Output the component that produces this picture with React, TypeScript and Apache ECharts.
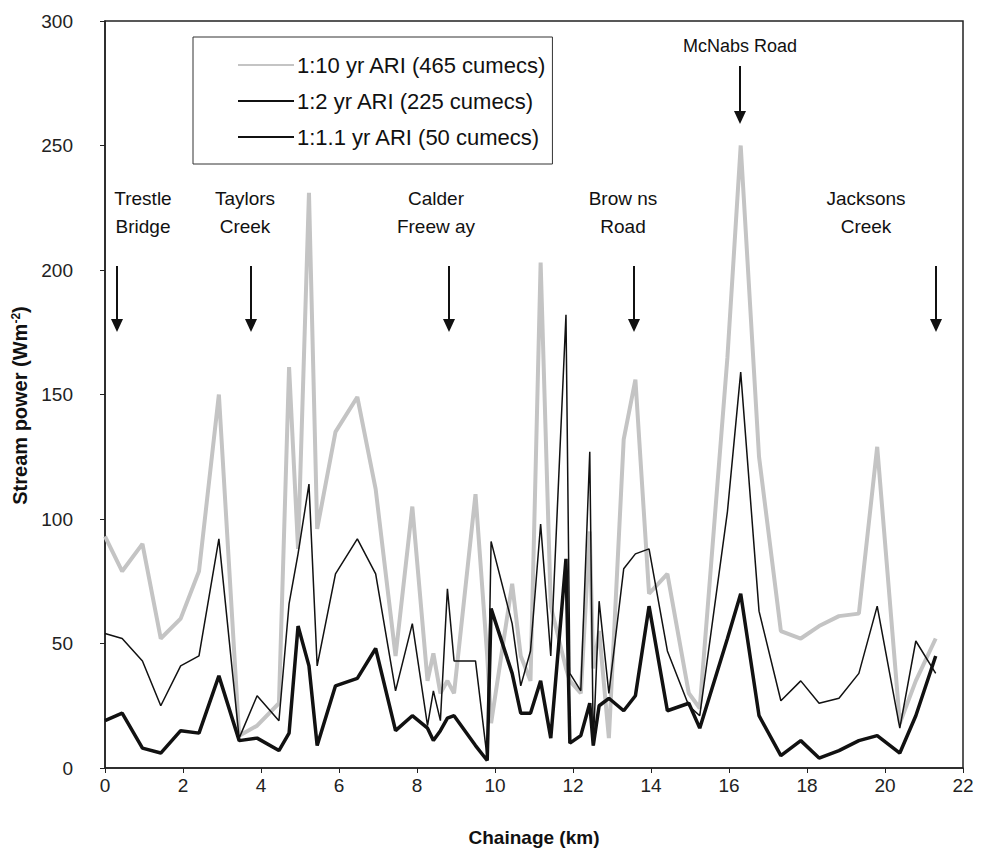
import React, { useEffect, useRef } from "react";
import * as echarts from "echarts";

const chainage = [
  0, 0.44, 0.96, 1.43, 1.94, 2.41, 2.92, 3.44, 3.9, 4.46, 4.72, 4.95, 5.23, 5.44, 5.91, 6.47, 6.94, 7.45, 7.88,
  8.27, 8.42, 8.6, 8.78, 8.95, 9.5, 9.8, 9.9, 10.44, 10.66, 10.91, 11.17, 11.43, 11.82, 11.92, 12.2, 12.43,
  12.52, 12.67, 12.92, 13.3, 13.6, 13.95, 14.42, 14.97, 15.25, 15.96, 16.3, 16.77, 17.33, 17.84, 18.31, 18.82,
  19.33, 19.8, 20.38, 20.79, 21.3,
];

const ari10 = [
  93, 79, 90, 52, 60, 79, 150, 13, 17, 26, 161, 88, 231, 96, 135, 149, 112, 45, 105,
  35, 46, 30, 35, 30, 110, 45, 18, 74, 45, 35, 203, 65, 40, 35, 30, 95,
  40, 55, 12, 132, 156, 70, 78, 30, 24, 165, 250, 125, 55, 52, 57, 61,
  62, 129, 18, 35, 52,
];

const ari2 = [
  54, 52, 43, 25, 41, 45, 92, 12, 29, 19, 66, 86, 114, 41, 78, 92, 78, 31, 58,
  17, 31, 19, 72, 43, 43, 4, 91, 58, 33, 47, 98, 45, 182, 38, 31, 127,
  9, 67, 30, 80, 86, 88, 47, 25, 21, 103, 159, 63, 27, 35, 26, 28,
  38, 65, 16, 51, 38,
];

const ari11 = [
  19, 22, 8, 6, 15, 14, 37, 11, 12, 7, 14, 57, 41, 9, 33, 36, 48, 15, 21,
  16, 11, 15, 20, 21, 9, 3, 64, 38, 22, 22, 35, 12, 84, 10, 13, 26,
  9, 25, 28, 23, 29, 65, 23, 26, 16, 52, 70, 21, 5, 11, 4, 7,
  11, 13, 6, 21, 45,
];

const seriesNames = ["1:10 yr ARI (465 cumecs)", "1:2 yr ARI (225 cumecs)", "1:1.1 yr ARI (50 cumecs)"];

const sites = [
  { label: "Trestle\nBridge", tx: 143, ax: 117, low: true },
  { label: "Taylors\nCreek", tx: 245, ax: 251, low: true },
  { label: "Calder\nFreew ay", tx: 436, ax: 449, low: true },
  { label: "Brow ns\nRoad", tx: 623, ax: 634, low: true },
  { label: "McNabs Road", tx: 740, ax: 740, low: false },
  { label: "Jacksons\nCreek", tx: 866, ax: 936, low: true },
];

const FONT = "'Liberation Sans', Arial, sans-serif";

function pairs(vals: number[]) {
  return chainage.map((x, i) => [x, vals[i]]);
}

export default function App() {
  const ref = useRef<HTMLDivElement>(null);
  useEffect(() => {
    if (!ref.current) return;
    const chart = echarts.init(ref.current, undefined, { renderer: "svg" });

    const graphics: any[] = [];
    sites.forEach((s) => {
      if (s.low) {
        graphics.push({
          type: "text",
          x: s.tx,
          y: 212,
          style: {
            text: s.label,
            font: `19px ${FONT}`,
            fill: "#111",
            align: "center",
            verticalAlign: "middle",
            lineHeight: 28,
          },
        });
        graphics.push({ type: "line", shape: { x1: s.ax, y1: 266, x2: s.ax, y2: 322 }, style: { stroke: "#111", lineWidth: 2 } });
        graphics.push({
          type: "polygon",
          shape: { points: [[s.ax - 6, 319], [s.ax + 6, 319], [s.ax, 332]] },
          style: { fill: "#111" },
        });
      } else {
        graphics.push({
          type: "text",
          x: s.tx,
          y: 46,
          style: { text: s.label, font: `18px ${FONT}`, fill: "#111", align: "center", verticalAlign: "middle" },
        });
        graphics.push({ type: "line", shape: { x1: s.ax, y1: 66, x2: s.ax, y2: 114 }, style: { stroke: "#111", lineWidth: 2 } });
        graphics.push({
          type: "polygon",
          shape: { points: [[s.ax - 6, 111], [s.ax + 6, 111], [s.ax, 124]] },
          style: { fill: "#111" },
        });
      }
    });

    chart.setOption({
      animation: false,
      backgroundColor: "#fff",
      grid: {
        left: 105,
        right: 20,
        top: 21,
        bottom: 92,
        show: true,
        borderColor: "#222",
        borderWidth: 1.5,
        containLabel: false,
      },
      legend: {
        orient: "vertical",
        left: 193,
        top: 37,
        padding: [17, 6, 16, 44],
        itemGap: 14,
        itemWidth: 56,
        itemHeight: 8,
        borderColor: "#333",
        borderWidth: 1,
        backgroundColor: "#fff",
        itemStyle: { opacity: 0 },
        textStyle: { fontFamily: FONT, fontSize: 22, color: "#111", padding: [0, 0, 0, -2] },
        data: seriesNames,
      },
      xAxis: {
        type: "value",
        min: 0,
        max: 22,
        interval: 2,
        name: "Chainage (km)",
        nameLocation: "middle",
        nameGap: 60,
        nameTextStyle: { fontFamily: FONT, fontSize: 19, fontWeight: "bold", color: "#111" },
        axisLine: { show: true, lineStyle: { color: "#222", width: 1.5 } },
        axisTick: { show: true, inside: false, length: 5, lineStyle: { color: "#222" } },
        axisLabel: { fontFamily: FONT, fontSize: 19, color: "#222", margin: 8 },
        splitLine: { show: false },
      },
      yAxis: {
        type: "value",
        min: 0,
        max: 300,
        interval: 50,
        name: "{a|Stream power (Wm}{s|-2}{a|)}",
        nameLocation: "middle",
        nameGap: 69,
        nameRotate: 90,
        nameTextStyle: {
          padding: [0, 22, 0, 0],
          rich: {
            a: { fontFamily: FONT, fontSize: 20, fontWeight: "bold", color: "#111" },
            s: { fontFamily: FONT, fontSize: 12, fontWeight: "bold", color: "#111", verticalAlign: "top", padding: [0, 0, 8, 0] },
          },
        },
        axisLine: { show: true, lineStyle: { color: "#222", width: 1.5 } },
        axisTick: { show: true, inside: false, length: 5, lineStyle: { color: "#222" } },
        axisLabel: { fontFamily: FONT, fontSize: 19, color: "#222", margin: 32 },
        splitLine: { show: false },
      },
      series: [
        {
          name: seriesNames[0],
          type: "line",
          data: pairs(ari10),
          symbol: "none",
          lineStyle: { color: "#c4c4c4", width: 4 },
          itemStyle: { color: "#c4c4c4" },
          z: 1,
        },
        {
          name: seriesNames[1],
          type: "line",
          data: pairs(ari2),
          symbol: "none",
          lineStyle: { color: "#111", width: 1.5 },
          itemStyle: { color: "#111" },
          z: 2,
        },
        {
          name: seriesNames[2],
          type: "line",
          data: pairs(ari11),
          symbol: "none",
          lineStyle: { color: "#111", width: 3.5 },
          itemStyle: { color: "#111" },
          z: 3,
        },
      ],
      graphic: graphics,
    });
    return () => chart.dispose();
  }, []);
  return <div ref={ref} style={{ width: 983, height: 860, position: "absolute", left: 0, top: 0 }} />;
}
